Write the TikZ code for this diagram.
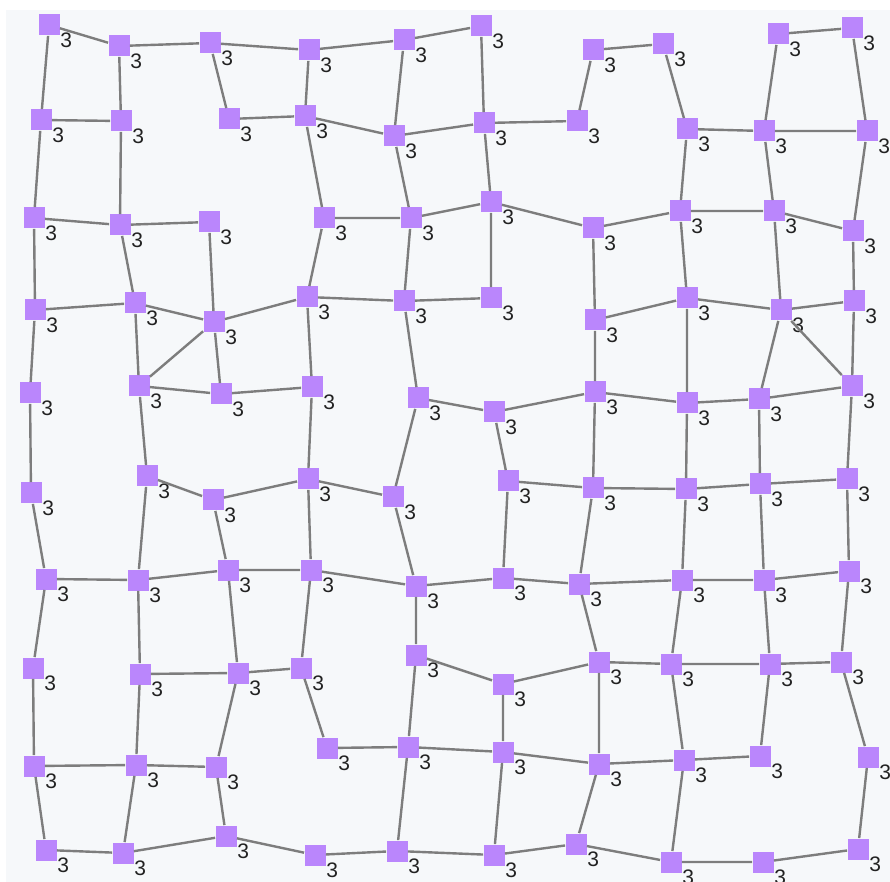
\documentclass[tikz,border=0pt]{standalone}
\usepackage{fontspec}
\setmainfont{Liberation Sans}

\begin{document}
\begin{tikzpicture}[
    x=0.5pt, y=-0.5pt,
    vtx/.style = {rectangle, fill=vpurple, minimum size=10.5pt, inner sep=0pt, label={[deg]center:3}},
    deg/.style = {xshift=8.6pt, yshift=-7.6pt, inner sep=0pt, font=\fontsize{10.5}{11}\selectfont, text=degtext},
    edge/.style = {draw, line width=1.2pt, color=edgegray}
]
    % Colors definition
    \definecolor{vpurple}{RGB}{186, 134, 252}
    \definecolor{edgegray}{RGB}{125, 125, 125}
    \definecolor{degtext}{RGB}{34, 34, 34}
    \definecolor{panel}{RGB}{246, 248, 250}

    % Canvas
    \useasboundingbox (0,0) rectangle (890,882);
    \fill [panel] (6,10) rectangle (890,882);

    % Nodes, row by row
    \node (a1) [vtx] at (49,25) {};
    \node (a2) [vtx] at (119,46) {};
    \node (a3) [vtx] at (210,43) {};
    \node (a4) [vtx] at (309,50) {};
    \node (a5) [vtx] at (404,40) {};
    \node (a6) [vtx] at (481,26) {};
    \node (a7) [vtx] at (593,50) {};
    \node (a8) [vtx] at (663,44) {};
    \node (a9) [vtx] at (778,34) {};
    \node (a10) [vtx] at (852,28) {};

    \node (b1) [vtx] at (41,120) {};
    \node (b2) [vtx] at (121,121) {};
    \node (b3) [vtx] at (229,119) {};
    \node (b4) [vtx] at (305,116) {};
    \node (b5) [vtx] at (394,136) {};
    \node (b6) [vtx] at (484,123) {};
    \node (b7) [vtx] at (577,121) {};
    \node (b8) [vtx] at (687,129) {};
    \node (b9) [vtx] at (764,131) {};
    \node (b10) [vtx] at (867,131) {};

    \node (c1) [vtx] at (34,218) {};
    \node (c2) [vtx] at (120,225) {};
    \node (c3) [vtx] at (209,222) {};
    \node (c4) [vtx] at (324,218) {};
    \node (c5) [vtx] at (411,218) {};
    \node (c6) [vtx] at (491,202) {};
    \node (c7) [vtx] at (593,228) {};
    \node (c8) [vtx] at (680,211) {};
    \node (c9) [vtx] at (774,211) {};
    \node (c10) [vtx] at (853,231) {};

    \node (d1) [vtx] at (35,310) {};
    \node (d2) [vtx] at (135,303) {};
    \node (d3) [vtx] at (214,322) {};
    \node (d4) [vtx] at (307,297) {};
    \node (d5) [vtx] at (404,301) {};
    \node (d6) [vtx] at (491,298) {};
    \node (d7) [vtx] at (595,320) {};
    \node (d8) [vtx] at (687,298) {};
    \node (d9) [vtx] at (781,310) {};
    \node (d10) [vtx] at (854,301) {};

    \node (e1) [vtx] at (30,393) {};
    \node (e2) [vtx] at (139,386) {};
    \node (e3) [vtx] at (221,394) {};
    \node (e4) [vtx] at (312,387) {};
    \node (e5) [vtx] at (418,398) {};
    \node (e6) [vtx] at (494,412) {};
    \node (e7) [vtx] at (595,392) {};
    \node (e8) [vtx] at (687,403) {};
    \node (e9) [vtx] at (759,399) {};
    \node (e10) [vtx] at (852,386) {};

    \node (f1) [vtx] at (31,493) {};
    \node (f2) [vtx] at (147,476) {};
    \node (f3) [vtx] at (213,500) {};
    \node (f4) [vtx] at (308,479) {};
    \node (f5) [vtx] at (393,497) {};
    \node (f6) [vtx] at (508,481) {};
    \node (f7) [vtx] at (593,488) {};
    \node (f8) [vtx] at (686,489) {};
    \node (f9) [vtx] at (760,484) {};
    \node (f10) [vtx] at (847,479) {};

    \node (g1) [vtx] at (46,579) {};
    \node (g2) [vtx] at (138,580) {};
    \node (g3) [vtx] at (228,570) {};
    \node (g4) [vtx] at (311,570) {};
    \node (g5) [vtx] at (416,586) {};
    \node (g6) [vtx] at (503,578) {};
    \node (g7) [vtx] at (579,584) {};
    \node (g8) [vtx] at (682,580) {};
    \node (g9) [vtx] at (764,580) {};
    \node (g10) [vtx] at (849,571) {};

    \node (h1) [vtx] at (33,668) {};
    \node (h2) [vtx] at (140,674) {};
    \node (h3) [vtx] at (238,673) {};
    \node (h4) [vtx] at (301,668) {};
    \node (h5) [vtx] at (416,655) {};
    \node (h6) [vtx] at (503,684) {};
    \node (h7) [vtx] at (599,662) {};
    \node (h8) [vtx] at (671,664) {};
    \node (h9) [vtx] at (770,664) {};
    \node (h10) [vtx] at (841,662) {};

    \node (i1) [vtx] at (34,766) {};
    \node (i2) [vtx] at (136,765) {};
    \node (i3) [vtx] at (216,767) {};
    \node (i4) [vtx] at (327,748) {};
    \node (i5) [vtx] at (408,747) {};
    \node (i6) [vtx] at (503,752) {};
    \node (i7) [vtx] at (599,764) {};
    \node (i8) [vtx] at (684,760) {};
    \node (i9) [vtx] at (760,756) {};
    \node (i10) [vtx] at (868,757) {};

    \node (j1) [vtx] at (46,850) {};
    \node (j2) [vtx] at (123,853) {};
    \node (j3) [vtx] at (226,836) {};
    \node (j4) [vtx] at (315,855) {};
    \node (j5) [vtx] at (397,851) {};
    \node (j6) [vtx] at (494,855) {};
    \node (j7) [vtx] at (576,844) {};
    \node (j8) [vtx] at (671,862) {};
    \node (j9) [vtx] at (763,862) {};
    \node (j10) [vtx] at (858,849) {};

    % Connections along the rows
    \draw [edge] (a1) -- (a2) -- (a3) -- (a4) -- (a5) -- (a6);
    \draw [edge] (a7) -- (a8);
    \draw [edge] (a9) -- (a10);
    \draw [edge] (b1) -- (b2);
    \draw [edge] (b3) -- (b4) -- (b5) -- (b6) -- (b7);
    \draw [edge] (b8) -- (b9) -- (b10);
    \draw [edge] (c1) -- (c2) -- (c3);
    \draw [edge] (c4) -- (c5) -- (c6) -- (c7) -- (c8) -- (c9) -- (c10);
    \draw [edge] (d1) -- (d2) -- (d3) -- (d4) -- (d5) -- (d6);
    \draw [edge] (d7) -- (d8) -- (d9) -- (d10);
    \draw [edge] (e2) -- (e3) -- (e4);
    \draw [edge] (e5) -- (e6) -- (e7) -- (e8) -- (e9) -- (e10);
    \draw [edge] (f2) -- (f3) -- (f4) -- (f5);
    \draw [edge] (f6) -- (f7) -- (f8) -- (f9) -- (f10);
    \draw [edge] (g1) -- (g2) -- (g3) -- (g4) -- (g5) -- (g6) -- (g7) -- (g8) -- (g9) -- (g10);
    \draw [edge] (h2) -- (h3) -- (h4);
    \draw [edge] (h5) -- (h6) -- (h7) -- (h8) -- (h9) -- (h10);
    \draw [edge] (i1) -- (i2) -- (i3);
    \draw [edge] (i4) -- (i5) -- (i6) -- (i7) -- (i8) -- (i9);
    \draw [edge] (j1) -- (j2) -- (j3) -- (j4) -- (j5) -- (j6) -- (j7) -- (j8) -- (j9) -- (j10);

    % Connections along the columns
    \draw [edge] (a1) -- (b1) -- (c1) -- (d1) -- (e1) -- (f1) -- (g1) -- (h1) -- (i1) -- (j1);
    \draw [edge] (a2) -- (b2) -- (c2) -- (d2) -- (e2) -- (f2) -- (g2) -- (h2) -- (i2) -- (j2);
    \draw [edge] (a3) -- (b3);
    \draw [edge] (c3) -- (d3) -- (e3);
    \draw [edge] (f3) -- (g3) -- (h3) -- (i3) -- (j3);
    \draw [edge] (a4) -- (b4) -- (c4) -- (d4) -- (e4) -- (f4) -- (g4) -- (h4) -- (i4);
    \draw [edge] (a5) -- (b5) -- (c5) -- (d5) -- (e5) -- (f5) -- (g5) -- (h5) -- (i5) -- (j5);
    \draw [edge] (a6) -- (b6) -- (c6) -- (d6);
    \draw [edge] (e6) -- (f6) -- (g6);
    \draw [edge] (h6) -- (i6) -- (j6);
    \draw [edge] (a7) -- (b7);
    \draw [edge] (c7) -- (d7) -- (e7) -- (f7) -- (g7) -- (h7) -- (i7) -- (j7);
    \draw [edge] (a8) -- (b8) -- (c8) -- (d8) -- (e8) -- (f8) -- (g8) -- (h8) -- (i8) -- (j8);
    \draw [edge] (a9) -- (b9) -- (c9) -- (d9) -- (e9) -- (f9) -- (g9) -- (h9) -- (i9);
    \draw [edge] (a10) -- (b10) -- (c10) -- (d10) -- (e10) -- (f10) -- (g10) -- (h10) -- (i10) -- (j10);

    % Diagonals
    \draw [edge] (d3) -- (e2);
    \draw [edge] (d9) -- (e10);

\end{tikzpicture}
\end{document}
